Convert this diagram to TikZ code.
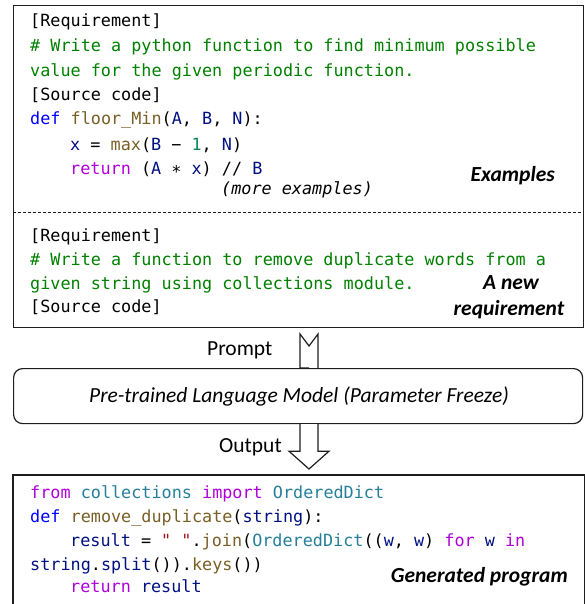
\documentclass[tikz,border=0pt]{standalone}
\usepackage{fontspec}
\setmainfont{Carlito}
\setmonofont{DejaVu Sans Mono}
\usetikzlibrary{calc}
\definecolor{cgreen}{RGB}{0,128,0}
\definecolor{cblue}{RGB}{0,0,255}
\definecolor{cfun}{RGB}{121,94,38}
\definecolor{cvar}{RGB}{0,16,128}
\definecolor{cnum}{RGB}{9,134,88}
\definecolor{ckw}{RGB}{175,0,219}
\definecolor{ctype}{RGB}{38,127,153}
\definecolor{cstr}{RGB}{163,21,21}
\definecolor{cline}{RGB}{30,30,30}
\newcommand\Kw[1]{\textcolor{ckw}{#1}}
\newcommand\Df[1]{\textcolor{cblue}{#1}}
\newcommand\Fn[1]{\textcolor{cfun}{#1}}
\newcommand\Vr[1]{\textcolor{cvar}{#1}}
\newcommand\Nm[1]{\textcolor{cnum}{#1}}
\newcommand\Ty[1]{\textcolor{ctype}{#1}}
\newcommand\St[1]{\textcolor{cstr}{#1}}
\newcommand\Cm[1]{\textcolor{cgreen}{#1}}
\begin{document}
\begin{tikzpicture}[x=1pt,y=-1pt,
  code/.style={anchor=base west,inner sep=0pt,font=\ttfamily\fontsize{16.8}{20}\selectfont},
  lbl/.style={inner sep=0pt,font=\fontsize{21.5}{24}\selectfont},
  tag/.style={inner sep=0pt,font=\bfseries\itshape\fontsize{21.5}{24}\selectfont},
  frame/.style={draw=cline,line width=1.2pt},
  blockarrow/.style={draw=cline,line width=1.2pt,fill=white,line join=miter}]
\useasboundingbox (0,0) rectangle (584,604);
% top box
\node[frame,anchor=north west,minimum width=570pt,minimum height=322pt,inner sep=0pt] (prompt) at (13,5) {};
\coordinate (dl) at (13,212);
\coordinate (dr) at (583,212);
\draw[cline,line width=1pt,dash pattern=on 3pt off 2pt] (dl) -- (dr);
% examples text
\node[code] (e1) at (30,27) {[Requirement]};
\node[code] (e2) at (30,52) {\Cm{\# Write a python function to find minimum possible}};
\node[code] (e3) at (30,77) {\Cm{value for the given periodic function.}};
\node[code] (e4) at (30,101) {[Source code]};
\node[code] (e5) at (30,125) {\Df{def} \Fn{floor\_Min}(\Vr{A}, \Vr{B}, \Vr{N}):};
\node[code] (e6) at (70,150) {\Vr{x} = \Fn{max}(\Vr{B} − \Nm{1}, \Vr{N})};
\node[code] (e7) at (70,174) {\Kw{return} (\Vr{A} ∗ \Vr{x}) // \Vr{B}};
\node[code,font=\ttfamily\itshape\fontsize{16.8}{20}\selectfont] (e8) at (221,194) {(more examples)};
\node[tag,anchor=base east] (exl) at (555,181) {Examples};
% new requirement text
\node[code] (r1) at (30,241) {[Requirement]};
\node[code] (r2) at (30,265) {\Cm{\# Write a function to remove duplicate words from a}};
\node[code] (r3) at (30,289) {\Cm{given string using collections module.}};
\node[code] (r4) at (30,312) {[Source code]};
\node[tag,anchor=base] (nrl1) at (511,289) {A new};
\node[tag,anchor=base] (nrl2) at (509,315) {requirement};
% model box
\node[frame,rounded corners=9pt,anchor=north west,minimum width=569pt,minimum height=55pt,inner sep=0pt] (model) at (13,368) {};
\node[lbl,font=\itshape\fontsize{21.5}{24}\selectfont,anchor=base] (mtxt) at (299,402) {Pre-trained Language Model (Parameter Freeze)};
% prompt arrow
\coordinate (pa) at ($(model.north west)+(296,0)$);
\draw[blockarrow,fill=none] (pa) -- ++(-9,0) -- ++(0,-34) -- ++(9,12) -- ++(9,-12) -- ++(0,34);
\node[lbl,anchor=base west] (ptxt) at (207,355) {Prompt};
% output arrow
\coordinate (oa) at ($(model.south west)+(296,0)$);
\node[frame,anchor=north west,draw=none,minimum width=570pt,minimum height=140pt,inner sep=0pt] (gen) at (13,475) {};
\draw[blockarrow] (oa) ++(-9,0) -- ++(0,27) -- ++(-11,0) -- ($(gen.north west)+(296,-6)$) -- ($(oa)+(20,27)$) -- ++(-11,0) -- ++(0,-27);
\node[lbl,anchor=base west] (otxt) at (219,452) {Output};
% generated program box (bottom open)
\draw[frame] (gen.south west) -- (gen.north west) -- (gen.north east) -- (gen.south east);
\node[code] (g1) at (30,498) {\Kw{from} \Ty{collections} \Kw{import} \Ty{OrderedDict}};
\node[code] (g2) at (30,522) {\Df{def} \Fn{remove\_duplicate}(\Vr{string}):};
\node[code] (g3) at (70,546) {\Vr{result} = \St{" "}.\Fn{join}(\Ty{OrderedDict}((\Vr{w}, \Vr{w}) \Kw{for} \Vr{w} \Kw{in}};
\node[code] (g4) at (30,570) {\Vr{string}.\Vr{split}()).\Fn{keys}())};
\node[code] (g5) at (70,592) {\Kw{return} \Vr{result}};
\node[tag,anchor=base east] (gl) at (568,582) {Generated program};
\end{tikzpicture}
\end{document}
